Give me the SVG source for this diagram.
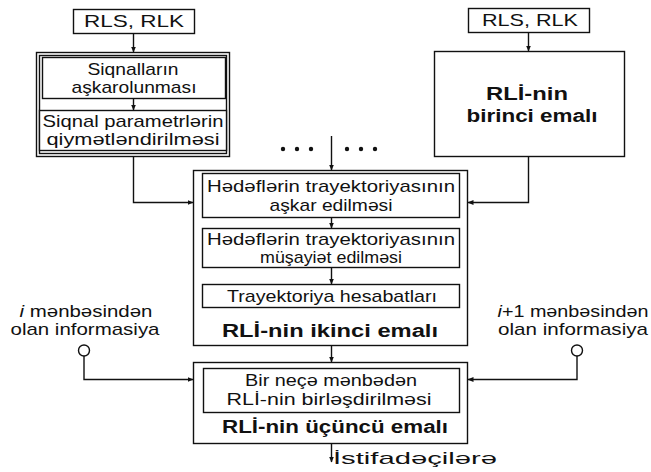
<svg xmlns="http://www.w3.org/2000/svg" width="651" height="472" viewBox="0 0 651 472">
<defs>
<marker id="ah" markerWidth="6" markerHeight="6" refX="5.5" refY="3" orient="auto" markerUnits="userSpaceOnUse">
<path d="M0,0.5 L6,3 L0,5.5 Z" fill="#111"/>
</marker>
<style>
.b{fill:#fff;stroke:#111;stroke-width:1.4}
text{font-family:'Liberation Sans',Arial,sans-serif;font-size:17px;fill:#111;text-anchor:middle}
.bd{font-weight:bold;font-size:18px}
.a{fill:none;stroke:#111;stroke-width:1.4;marker-end:url(#ah)}
</style>
</defs>
<rect width="651" height="472" fill="#fff"/>

<g id="rls-left">
<rect class="b" x="73.5" y="9.5" width="121" height="24"/>
<text x="134" y="27" textLength="100" lengthAdjust="spacingAndGlyphs">RLS, RLK</text>
</g>

<g id="rls-right">
<rect class="b" x="468.5" y="8.5" width="121" height="24"/>
<text x="530" y="26" textLength="96" lengthAdjust="spacingAndGlyphs">RLS, RLK</text>
</g>

<g id="left-block">
<rect class="b" x="36.5" y="52.5" width="193" height="104"/>
<rect class="b" x="39.5" y="55.5" width="187" height="98"/>
</g>

<g id="signal-detect">
<rect class="b" x="42.5" y="57.5" width="183" height="41"/>
<text x="133" y="75" textLength="91" lengthAdjust="spacingAndGlyphs">Siqnalların</text>
<text x="134" y="93" textLength="125" lengthAdjust="spacingAndGlyphs">aşkarolunması</text>
</g>

<g id="signal-param">
<rect class="b" x="39.5" y="110.5" width="187" height="40"/>
<text x="133" y="127" textLength="181" lengthAdjust="spacingAndGlyphs">Siqnal parametrlərin</text>
<text x="133" y="145" textLength="173" lengthAdjust="spacingAndGlyphs">qiymətləndirilməsi</text>
</g>

<g id="first-processing">
<rect class="b" x="434.5" y="51.5" width="190" height="105"/>
<text class="bd" x="527" y="100" textLength="82" lengthAdjust="spacingAndGlyphs">RLİ-nin</text>
<text class="bd" x="532" y="122" textLength="131" lengthAdjust="spacingAndGlyphs">birinci emalı</text>
</g>

<g id="dots">
<circle cx="283" cy="149" r="2.2" fill="#111"/>
<circle cx="297" cy="149" r="2.2" fill="#111"/>
<circle cx="311" cy="149" r="2.2" fill="#111"/>
<circle cx="347" cy="149" r="2.2" fill="#111"/>
<circle cx="361" cy="149" r="2.2" fill="#111"/>
<circle cx="375" cy="149" r="2.2" fill="#111"/>
</g>

<g id="second-processing">
<rect class="b" x="193.5" y="170.5" width="274" height="175"/>
<text class="bd" x="330" y="337" textLength="216" lengthAdjust="spacingAndGlyphs">RLİ-nin ikinci emalı</text>
</g>

<g id="track-detect">
<rect class="b" x="202.5" y="173.5" width="257" height="44"/>
<text x="331" y="192" textLength="248" lengthAdjust="spacingAndGlyphs">Hədəflərin trayektoriyasının</text>
<text x="331" y="211" textLength="123" lengthAdjust="spacingAndGlyphs">aşkar edilməsi</text>
</g>

<g id="track-follow">
<rect class="b" x="202.5" y="228.5" width="257" height="39"/>
<text x="331" y="245" textLength="248" lengthAdjust="spacingAndGlyphs">Hədəflərin trayektoriyasının</text>
<text x="331" y="263" textLength="142" lengthAdjust="spacingAndGlyphs">müşayiət edilməsi</text>
</g>

<g id="track-reports">
<rect class="b" x="202.5" y="284.5" width="257" height="23"/>
<text x="332" y="302" textLength="210" lengthAdjust="spacingAndGlyphs">Trayektoriya hesabatları</text>
</g>

<g id="third-processing">
<rect class="b" x="193.5" y="362.5" width="274" height="81"/>
<text class="bd" x="335" y="433" textLength="226" lengthAdjust="spacingAndGlyphs">RLİ-nin üçüncü emalı</text>
</g>

<g id="merge">
<rect class="b" x="203.5" y="368.5" width="256" height="44"/>
<text x="331" y="386" textLength="172" lengthAdjust="spacingAndGlyphs">Bir neçə mənbədən</text>
<text x="329" y="405" textLength="205" lengthAdjust="spacingAndGlyphs">RLİ-nin birləşdirilməsi</text>
</g>

<g id="source-i">
<text x="86" y="317" textLength="133" lengthAdjust="spacingAndGlyphs"><tspan font-style="italic">i</tspan> mənbəsindən</text>
<text x="85" y="335" textLength="149" lengthAdjust="spacingAndGlyphs">olan informasiya</text>
<circle class="b" cx="84" cy="350.5" r="5.5"/>
</g>

<g id="source-i1">
<text x="573" y="317" textLength="151" lengthAdjust="spacingAndGlyphs"><tspan font-style="italic">i</tspan>+1 mənbəsindən</text>
<text x="573" y="335" textLength="150" lengthAdjust="spacingAndGlyphs">olan informasiya</text>
<circle class="b" cx="577" cy="350.5" r="5.5"/>
</g>

<g id="users">
<text x="415" y="464" textLength="164" lengthAdjust="spacingAndGlyphs">İstifadəçilərə</text>
</g>

<g id="connectors">
<path class="a" d="M133.5,33.5 V52"/>
<path class="a" d="M528.5,32.5 V51"/>
<path class="a" d="M133.5,98.5 V110"/>
<path class="a" d="M133.5,156.5 V202.5 H193"/>
<path class="a" d="M528.5,156.5 V202.5 H468"/>
<path class="a" d="M331.5,136 V170"/>
<path class="a" d="M331.5,217.5 V228"/>
<path class="a" d="M331.5,267.5 V284"/>
<path class="a" d="M331.5,345.5 V362"/>
<path class="a" d="M84,356 V379.5 H193"/>
<path class="a" d="M577,356 V379.5 H468"/>
<path class="a" d="M331.5,443.5 V462"/>
</g>
</svg>
